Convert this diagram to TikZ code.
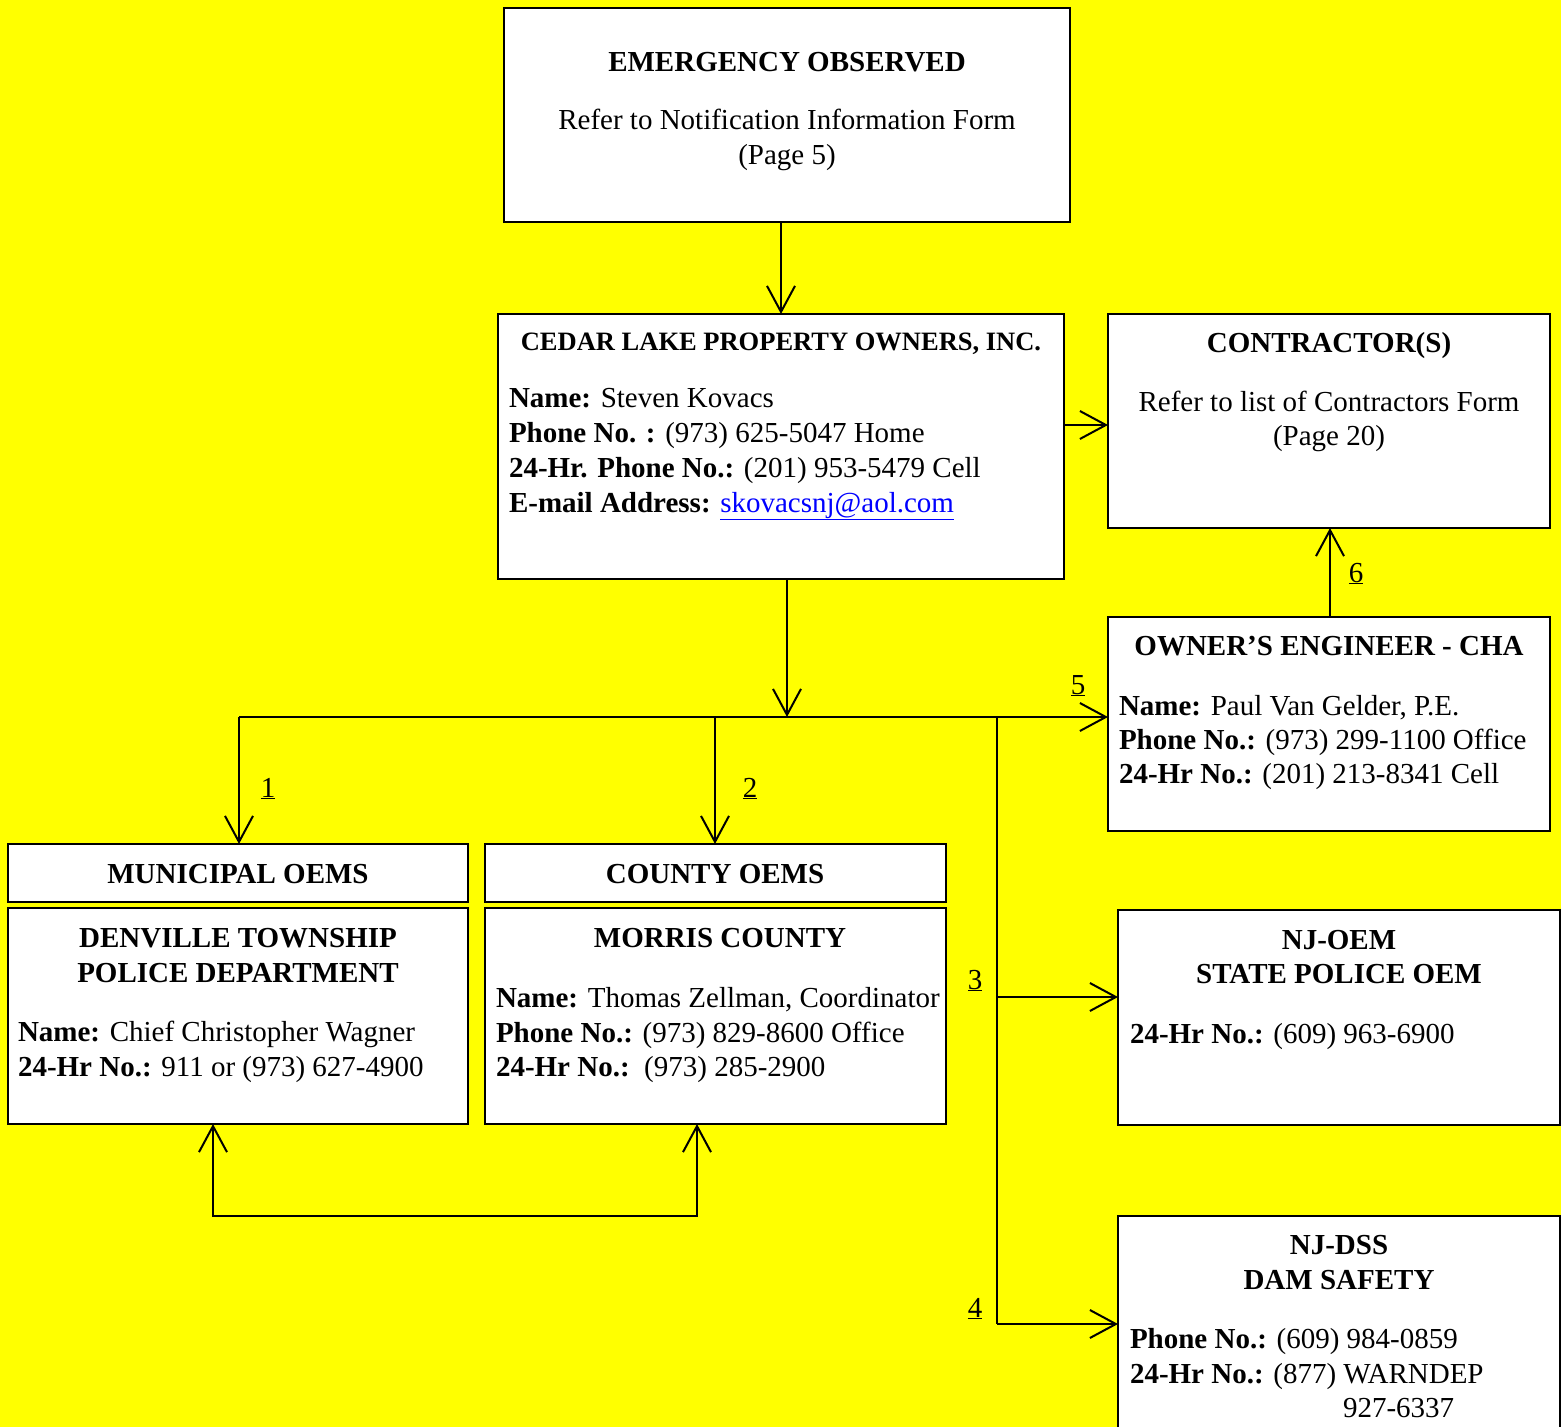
\documentclass[tikz,border=0pt]{standalone}
\usepackage{fontspec}
\setmainfont{Liberation Serif}
\usetikzlibrary{arrows.meta}
\definecolor{bgyellow}{RGB}{255,255,0}
\definecolor{linkblue}{RGB}{0,0,255}
\tikzset{
  box/.style={draw=black, fill=white, line width=2pt, inner sep=0pt, outer sep=0pt, anchor=north west},
  txt/.style={inner sep=0pt, outer sep=0pt, font=\fontsize{29}{35}\selectfont},
  ctr/.style={txt, anchor=base},
  lft/.style={txt, anchor=base west},
  conn/.style={line width=2pt, black},
  arr/.style={conn, -{Straight Barb[length=26pt,width=28pt]}},
  biarr/.style={conn, {Straight Barb[length=26pt,width=28pt]}-{Straight Barb[length=26pt,width=28pt]}},
}
\begin{document}
\begin{tikzpicture}[x=1pt,y=-1pt]
\useasboundingbox (0,0) rectangle (1561,1427);
\clip (0,0) rectangle (1561,1427);
\fill[bgyellow] (0,0) rectangle (1561,1427);

% boxes
\node[box, minimum width=566pt, minimum height=214pt] (emerg) at (504,8) {};
\node[box, minimum width=566pt, minimum height=265pt] (cedar) at (498,314) {};
\node[box, minimum width=442pt, minimum height=214pt] (contr) at (1108,314) {};
\node[box, minimum width=442pt, minimum height=214pt] (owner) at (1108,617) {};
\node[box, minimum width=460pt, minimum height=58pt] (munh) at (8,844) {};
\node[box, minimum width=460pt, minimum height=216pt] (denv) at (8,908) {};
\node[box, minimum width=461pt, minimum height=58pt] (counh) at (485,844) {};
\node[box, minimum width=461pt, minimum height=216pt] (morris) at (485,908) {};
\node[box, minimum width=442pt, minimum height=215pt] (njoem) at (1118,910) {};
\node[box, minimum width=442pt, minimum height=260pt] (njdss) at (1118,1216) {};

% texts: emergency
\node[ctr] (e1) at (787,71) {\textbf{EMERGENCY OBSERVED}};
\node[ctr] (e2) at (787,129) {Refer to Notification Information Form};
\node[ctr] (e3) at (787,164) {(Page 5)};

% cedar lake
\node[ctr, font=\fontsize{26.5}{32}\selectfont] (c1) at (781,350) {\textbf{CEDAR LAKE PROPERTY OWNERS, INC.}};
\node[lft] (c2) at (509,407) {\textbf{Name:} Steven Kovacs};
\node[lft] (c3) at (509,442) {\textbf{Phone No. :} (973) 625-5047 Home};
\node[lft] (c4) at (509,477) {\textbf{24-Hr. Phone No.:} (201) 953-5479 Cell};
\node[lft] (c5) at (509,512) {\textbf{E-mail Address:} \textcolor{linkblue}{\underline{skovacsnj@aol.com}}};

% contractors
\node[ctr] (k1) at (1329,352) {\textbf{CONTRACTOR(S)}};
\node[ctr] (k2) at (1329,411) {Refer to list of Contractors Form};
\node[ctr] (k3) at (1329,445) {(Page 20)};

% owner's engineer
\node[ctr] (o1) at (1329,655) {\textbf{OWNER’S ENGINEER - CHA}};
\node[lft] (o2) at (1119,715) {\textbf{Name:} Paul Van Gelder, P.E.};
\node[lft] (o3) at (1119,749) {\textbf{Phone No.:} (973) 299-1100 Office};
\node[lft] (o4) at (1119,783) {\textbf{24-Hr No.:} (201) 213-8341 Cell};

% municipal
\node[ctr] (m0) at (238,883) {\textbf{MUNICIPAL OEMS}};
\node[ctr] (m1) at (238,947) {\textbf{DENVILLE TOWNSHIP}};
\node[ctr] (m2) at (238,982) {\textbf{POLICE DEPARTMENT}};
\node[lft] (m3) at (18,1041) {\textbf{Name:} Chief Christopher Wagner};
\node[lft] (m4) at (18,1076) {\textbf{24-Hr No.:} 911 or (973) 627-4900};

% county
\node[ctr] (n0) at (715,883) {\textbf{COUNTY OEMS}};
\node[ctr] (n1) at (720,947) {\textbf{MORRIS COUNTY}};
\node[lft] (n2) at (496,1007) {\textbf{Name:} Thomas Zellman, Coordinator};
\node[lft] (n3) at (496,1042) {\textbf{Phone No.:} (973) 829-8600 Office};
\node[lft] (n4) at (496,1076) {\textbf{24-Hr No.:}\ \ (973) 285-2900};

% NJ-OEM
\node[ctr] (s1) at (1339,949) {\textbf{NJ-OEM}};
\node[ctr] (s2) at (1339,983) {\textbf{STATE POLICE OEM}};
\node[lft] (s3) at (1130,1043) {\textbf{24-Hr No.:} (609) 963-6900};

% NJ-DSS
\node[ctr] (d1) at (1339,1254) {\textbf{NJ-DSS}};
\node[ctr] (d2) at (1339,1289) {\textbf{DAM SAFETY}};
\node[lft] (d3) at (1130,1348) {\textbf{Phone No.:} (609) 984-0859};
\node[lft] (d4) at (1130,1383) {\textbf{24-Hr No.:} (877) WARNDEP};
\node[lft] (d5) at (1343,1417) {927-6337};

% connector coordinates
\coordinate (hub) at (787,717);
\coordinate (busL) at (239,717);
\coordinate (b2) at (715,717);
\coordinate (b3) at (997,717);
\coordinate (j3) at (997,997);
\coordinate (b4) at (997,1324);
\coordinate (l1) at (213,1216);
\coordinate (l2) at (697,1216);

% connectors
\draw[arr] (emerg.south -| cedar.north) -- (cedar.north);
\draw[arr] (cedar.east |- 0,425) -- (contr.west |- 0,425);
\draw[arr] (cedar.south -| hub) -- (hub);
\draw[arr] (busL) -- (owner.west |- hub);
\draw[arr] (busL) -- (busL |- munh.north);
\draw[arr] (b2) -- (b2 |- counh.north);
\draw[conn] (b3) -- (b4);
\draw[arr] (j3) -- (j3 -| njoem.west);
\draw[arr] (b4) -- (b4 -| njdss.west);
\draw[arr] (owner.north -| 1330,0) -- (contr.south -| 1330,0);
\draw[biarr] (denv.south -| l1) -- (l1) -- (l2) -- (morris.south -| l2);

% labels
\node[ctr] (lab1) at (268,797) {\underline{1}};
\node[ctr] (lab2) at (750,797) {\underline{2}};
\node[ctr] (lab3) at (975,989) {\underline{3}};
\node[ctr] (lab4) at (975,1317) {\underline{4}};
\node[ctr] (lab5) at (1078,694) {\underline{5}};
\node[ctr] (lab6) at (1356,582) {\underline{6}};
\end{tikzpicture}
\end{document}
